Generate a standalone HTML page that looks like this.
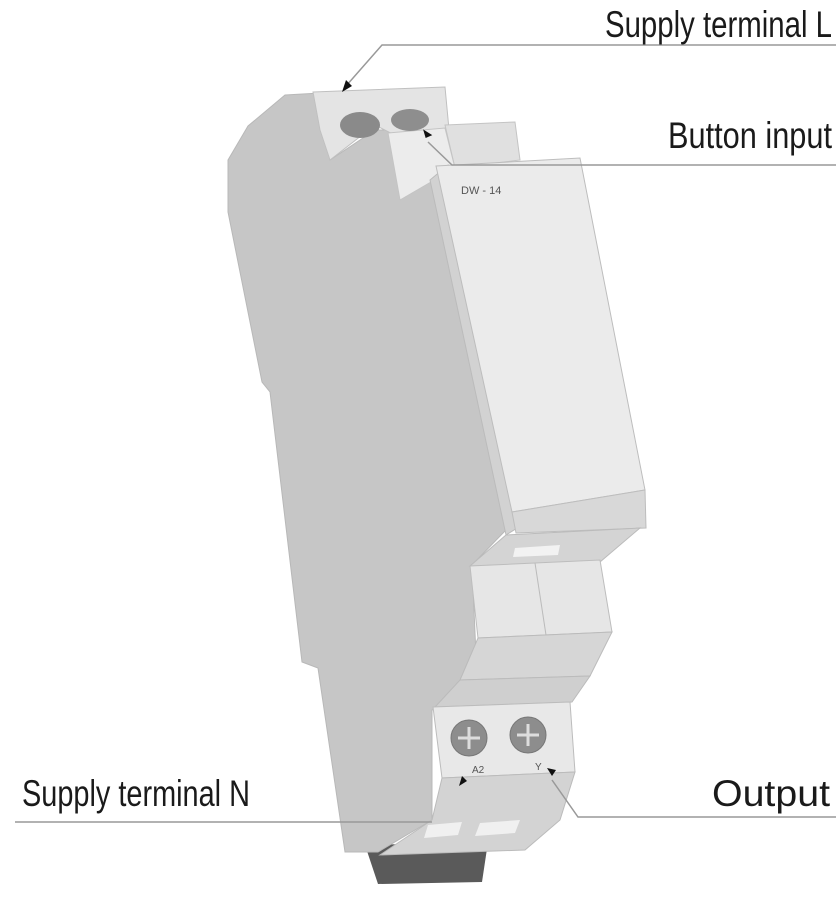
<!DOCTYPE html>
<html><head><meta charset="utf-8"><style>
html,body{margin:0;padding:0;background:#fff;width:836px;height:897px;overflow:hidden}
text{font-family:"Liberation Sans Narrow","Liberation Sans",sans-serif;fill:#1a1a1a}
</style></head><body>
<svg width="836" height="897" viewBox="0 0 836 897" xmlns="http://www.w3.org/2000/svg">
<!-- DIN clip -->
<polygon points="365,845 488,842 482,882 378,884" fill="#5a5a5a"/>
<polygon points="233,183 245,180 248,212 236,214" fill="#555"/>
<!-- side body -->
<polygon points="285,95 320,93 330,160 375,130 405,130 432,178 506,530 472,565 478,700 432,710 432,820 378,852 345,852 318,668 302,662 270,392 262,382 228,212 228,160 248,126" fill="#c6c6c6" stroke="#b8b8b8"/>
<!-- top terminal block -->
<polygon points="313,92 445,87 450,140 420,148 375,125 330,160 320,130" fill="#e4e4e4" stroke="#c0c0c0"/>
<polygon points="445,125 515,122 520,160 455,168" fill="#e0e0e0" stroke="#c4c4c4"/>
<polygon points="388,133 445,128 455,168 400,200" fill="#ececec" stroke="#c4c4c4"/>
<ellipse cx="360" cy="125" rx="20" ry="13" fill="#8a8a8a"/>
<ellipse cx="410" cy="120" rx="19" ry="11" fill="#8e8e8e"/>
<!-- front panel thickness -->
<polygon points="430,180 448,165 522,525 506,535" fill="#d2d2d2" stroke="#bbb"/>
<!-- front panel -->
<polygon points="436,166 580,158 645,490 512,512" fill="#ebebeb" stroke="#bdbdbd"/>
<polygon points="512,512 645,490 646,528 516,533" fill="#d8d8d8" stroke="#bdbdbd"/>
<text x="461" y="194" font-size="11" style="fill:#555">DW - 14</text>
<!-- lower modules -->
<polygon points="506,535 640,528 600,562 470,566" fill="#d4d4d4" stroke="#bbb"/>
<polygon points="515,548 560,545 558,555 513,557" fill="#f2f2f2"/>
<polygon points="470,566 600,560 612,632 478,638" fill="#e6e6e6" stroke="#bdbdbd"/>
<line x1="535" y1="563" x2="546" y2="635" stroke="#bbb"/>
<polygon points="478,638 612,632 590,676 460,680" fill="#d6d6d6" stroke="#bbb"/>
<polygon points="460,680 590,676 572,702 435,707" fill="#cfcfcf" stroke="#bbb"/>
<!-- lower terminal block -->
<polygon points="433,707 570,702 575,772 442,778" fill="#e8e8e8" stroke="#bcbcbc"/>
<circle cx="469" cy="738" r="18" fill="#8d8d8d" stroke="#777"/>
<circle cx="528" cy="735" r="18" fill="#8d8d8d" stroke="#777"/>
<path d="M458 738h22M469 727v22M517 735h22M528 724v22" stroke="#ddd" stroke-width="3"/>
<text x="472" y="773" font-size="10" style="fill:#555">A2</text>
<text x="535" y="770" font-size="10" style="fill:#555">Y</text>
<polygon points="442,778 575,772 560,820 525,850 380,855 432,820" fill="#d3d3d3" stroke="#bbb"/>
<polygon points="428,825 462,822 458,835 424,838" fill="#f0f0f0"/>
<polygon points="480,823 520,820 515,833 475,836" fill="#f0f0f0"/>
<!-- leader lines -->
<g stroke="#999" stroke-width="1.5" fill="none">
<polyline points="836,45 382,45 346,86"/>
<polyline points="836,165 452,165 428,142"/>
<polyline points="15,822 432,822"/>
<polyline points="836,817 578,817 552,780"/>
</g>
<g fill="#111">
<polygon points="342,92 346,80 352,86"/>
<polygon points="426,138 422,130 432,134" transform="rotate(10 426 136)"/>
<polygon points="459,786 462,776 467,781"/>
<polygon points="552,776 547,768 556,770"/>
</g>
<text x="605" y="37" font-size="37" textLength="227" lengthAdjust="spacingAndGlyphs">Supply terminal L</text>
<text x="668" y="148" font-size="37" textLength="164" lengthAdjust="spacingAndGlyphs">Button input</text>
<text x="22" y="806" font-size="37" textLength="228" lengthAdjust="spacingAndGlyphs">Supply terminal N</text>
<text x="712" y="806" font-size="37" textLength="118" lengthAdjust="spacingAndGlyphs">Output</text>
</svg>
</body></html>
